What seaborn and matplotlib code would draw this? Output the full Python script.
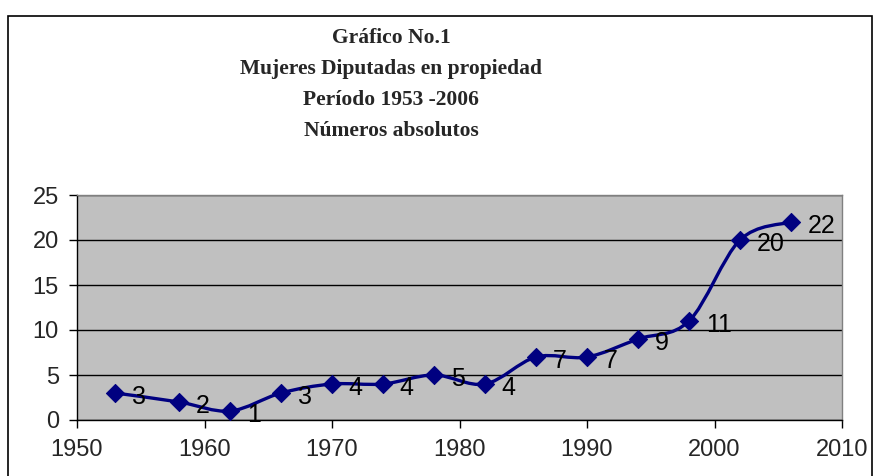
import numpy as np
import pandas as pd
import seaborn as sns
import matplotlib.pyplot as plt
from matplotlib.path import Path
from matplotlib.patches import PathPatch, Rectangle

# Data
years = [1953, 1958, 1962, 1966, 1970, 1974, 1978, 1982, 1986, 1990, 1994, 1998, 2002, 2006]
diputadas = [3, 2, 1, 3, 4, 4, 5, 4, 7, 7, 9, 11, 20, 22]
title_lines = ["Gráfico No.1", "Mujeres Diputadas en propiedad",
               "Período 1953 -2006", "Números absolutos"]

data = pd.DataFrame({"Año": years, "Diputadas": diputadas})

sns.set_style("white")
plt.rcParams["font.family"] = ["Liberation Sans", "DejaVu Sans"]

fig = plt.figure(figsize=(8.8, 4.76), dpi=100)
ax = fig.add_axes([77 / 880, 56 / 476, 765 / 880, 225 / 476])
ax.set_facecolor("#C0C0C0")

# Excel-style smoothed line (cubic Bezier through the data points)
pts = data[["Año", "Diputadas"]].to_numpy(dtype=float)
verts = [tuple(pts[0])]
codes = [Path.MOVETO]
n = len(pts)
for i in range(n - 1):
    p0 = pts[i - 1] if i > 0 else pts[i]
    p1, p2 = pts[i], pts[i + 1]
    p3 = pts[i + 2] if i + 2 < n else pts[i + 1]
    c1 = p1 + (p2 - p0) / 6
    c2 = p2 - (p3 - p1) / 6
    verts += [tuple(c1), tuple(c2), tuple(p2)]
    codes += [Path.CURVE4] * 3
ax.add_patch(PathPatch(Path(verts, codes), facecolor="none",
                       edgecolor="#000080", lw=2.4, zorder=3))

sns.scatterplot(data=data, x="Año", y="Diputadas", marker="D", s=85,
                color="#000080", edgecolor="#000080", ax=ax, zorder=4)

for x, y in zip(years, diputadas):
    ax.annotate(str(y), (x, y), xytext=(12, -3), textcoords="offset points",
                ha="left", va="center", fontsize=18, color="black", zorder=5)

ax.set_xlim(1950, 2010)
ax.set_ylim(0, 25)
ax.set_xticks(range(1950, 2011, 10))
ax.set_yticks(range(0, 26, 5))
ax.set_xlabel("")
ax.set_ylabel("")
ax.grid(axis="y", color="black", lw=1)
ax.set_axisbelow(True)
ax.tick_params(axis="both", labelsize=17, length=6, width=1,
               direction="out", color="black", left=True, bottom=True)
ax.tick_params(axis="x", pad=8)
ax.tick_params(axis="y", pad=7)
for side in ["top", "right"]:
    ax.spines[side].set_color("#808080")
    ax.spines[side].set_linewidth(1)
for side in ["left", "bottom"]:
    ax.spines[side].set_color("black")
    ax.spines[side].set_linewidth(1)

# Titles
for k, line in enumerate(title_lines):
    fig.text(391 / 880, 1 - (38 + 31 * k) / 476, line, ha="center", va="center",
             fontsize=15.5, fontweight="bold", family="Liberation Serif")

# Outer chart frame
fig.add_artist(Rectangle((8 / 880, -0.05), 864 / 880, 1.05 - 16 / 476,
                         transform=fig.transFigure, fill=False,
                         edgecolor="black", lw=1.2, clip_on=False))

fig.savefig("out.png", dpi=100)
